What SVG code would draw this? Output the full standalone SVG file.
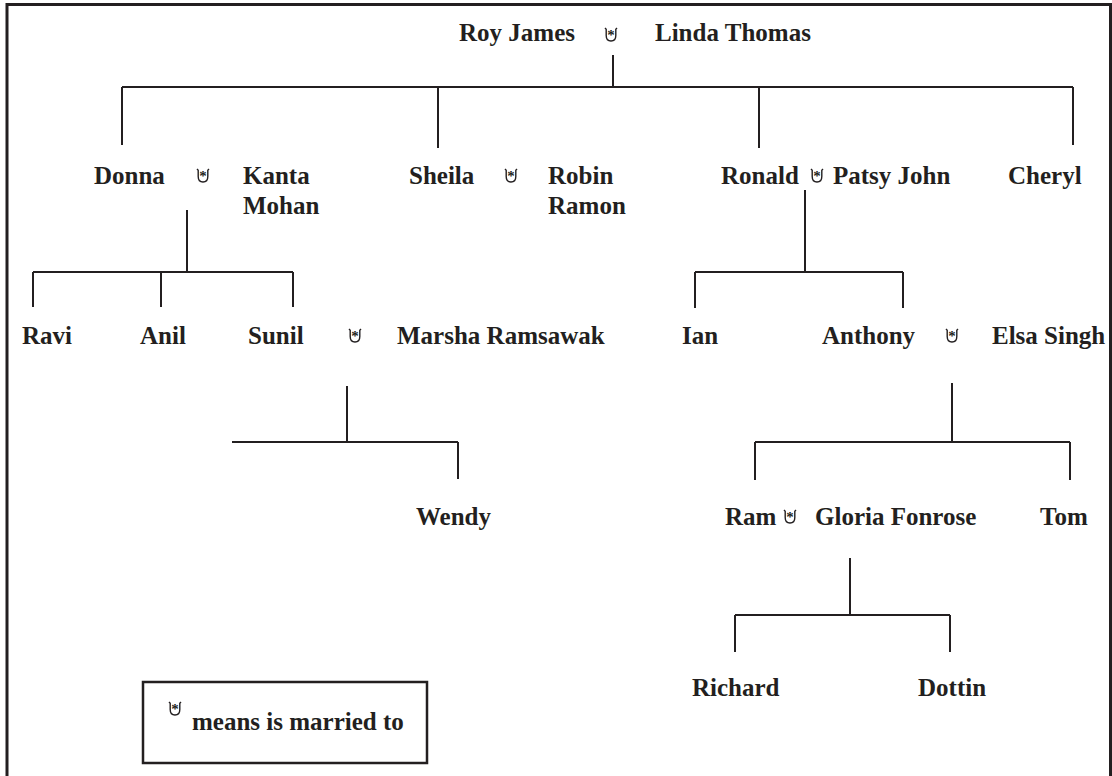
<svg xmlns="http://www.w3.org/2000/svg" xmlns:xlink="http://www.w3.org/1999/xlink" width="1112" height="776" viewBox="0 0 1112 776">
<style>
  text { font-family: "Liberation Serif", "Times New Roman", serif; font-weight: bold; font-size: 25px; fill: #231f20; }
  .ln { stroke: #231f20; stroke-width: 2; fill: none; }
  .ast { font-size: 15px; text-anchor: middle; }
</style>
<defs>
  <g id="wed">
    <path d="M0,0 L1.2,1.2 L1.2,7.5 Q1.2,13 6,13 Q10.8,13 10.8,7.5 L10.8,1.2 L12,0" fill="none" stroke="#231f20" stroke-width="1.4"/>
    <text class="ast" x="6" y="12">*</text>
  </g>
</defs>
<rect width="1112" height="776" fill="#fff"/>
<path d="M7,776 V4.5 H1110.5 V776" fill="none" stroke="#231f20" stroke-width="3"/>

<g id="connectors">
  <path class="ln" d="M613,55 V87 M122,87 H1073 M122,87 V145 M438,87 V148 M759,87 V148 M1073,87 V145"/>
  <path class="ln" d="M187,210 V272 M33,272 H293 M33,272 V307 M161,272 V307 M293,272 V307"/>
  <path class="ln" d="M805,190 V272 M695,272 H903 M695,272 V308 M903,272 V308"/>
  <path class="ln" d="M347,386 V442 M232,442 H458 M458,442 V479"/>
  <path class="ln" d="M952,383 V442 M755,442 H1070 M755,442 V480 M1070,442 V480"/>
  <path class="ln" d="M850,558 V615 M735,615 H950 M735,615 V652 M950,615 V652"/>
</g>

<g id="roy-linda">
  <text x="459" y="41">Roy James</text>
  <use xlink:href="#wed" x="605" y="28"/>
  <text x="655" y="41">Linda Thomas</text>
</g>
<g id="donna-kanta">
  <text x="94" y="184">Donna</text>
  <use xlink:href="#wed" x="197" y="169"/>
  <text x="243" y="184">Kanta</text>
  <text x="243" y="214">Mohan</text>
</g>
<g id="sheila-robin">
  <text x="409" y="184">Sheila</text>
  <use xlink:href="#wed" x="505" y="169"/>
  <text x="548" y="184">Robin</text>
  <text x="548" y="214">Ramon</text>
</g>
<g id="ronald-patsy">
  <text x="721" y="184">Ronald</text>
  <use xlink:href="#wed" x="811" y="169"/>
  <text x="833" y="184">Patsy John</text>
</g>
<g id="cheryl"><text x="1008" y="184">Cheryl</text></g>
<g id="ravi"><text x="22" y="344">Ravi</text></g>
<g id="anil"><text x="140" y="344">Anil</text></g>
<g id="sunil-marsha">
  <text x="248" y="344">Sunil</text>
  <use xlink:href="#wed" x="349" y="329"/>
  <text x="397" y="344">Marsha Ramsawak</text>
</g>
<g id="ian"><text x="682" y="344">Ian</text></g>
<g id="anthony-elsa">
  <text x="822" y="344">Anthony</text>
  <use xlink:href="#wed" x="946" y="329"/>
  <text x="992" y="344">Elsa Singh</text>
</g>
<g id="wendy"><text x="416" y="525">Wendy</text></g>
<g id="ram-gloria">
  <text x="725" y="525">Ram</text>
  <use xlink:href="#wed" x="784" y="510"/>
  <text x="815" y="525">Gloria Fonrose</text>
</g>
<g id="tom"><text x="1040" y="525">Tom</text></g>
<g id="richard"><text x="692" y="696">Richard</text></g>
<g id="dottin"><text x="918" y="696">Dottin</text></g>
<g id="legend">
  <rect x="143" y="682" width="284" height="81" fill="none" stroke="#231f20" stroke-width="2.5"/>
  <use xlink:href="#wed" x="169" y="702"/>
  <text x="192" y="730">means is married to</text>
</g>
</svg>
